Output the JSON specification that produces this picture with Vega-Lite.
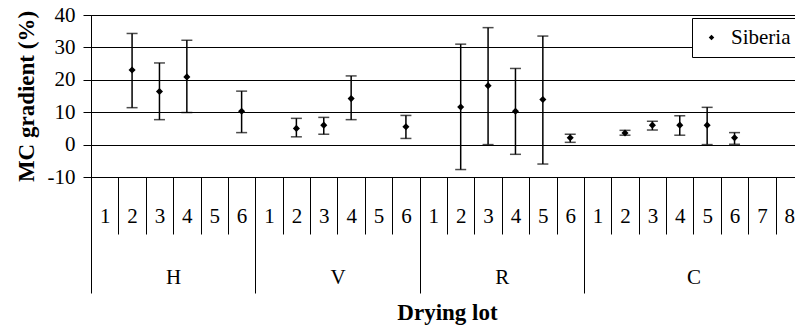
{
  "$schema": "https://vega.github.io/schema/vega-lite/v6.json",
  "width": 712,
  "height": 162,
  "autosize": {"type": "none"},
  "padding": {"left": 91, "top": 15, "right": 0, "bottom": 156},
  "config": {
    "font": "Liberation Serif",
    "view": {"stroke": "black", "strokeWidth": 1},
    "axis": {
      "labelFont": "Liberation Serif",
      "titleFont": "Liberation Serif",
      "labelColor": "black",
      "titleColor": "black",
      "domainColor": "black",
      "tickColor": "black",
      "domainWidth": 1,
      "tickWidth": 1
    },
    "legend": {
      "orient": "none",
      "legendX": 601,
      "legendY": 3,
      "title": null,
      "padding": 9,
      "strokeColor": "black",
      "fillColor": "white",
      "labelFont": "Liberation Serif",
      "labelFontSize": 21,
      "labelColor": "black",
      "symbolSize": 30,
      "symbolType": "diamond",
      "symbolFillColor": "black",
      "symbolStrokeWidth": 0,
      "labelOffset": 9
    }
  },
  "datasets": {
    "main": [
      {"key": "H1", "series": "Siberia", "mean": null, "low": null, "high": null},
      {"key": "H2", "series": "Siberia", "mean": 23.0, "low": 11.4, "high": 34.3},
      {"key": "H3", "series": "Siberia", "mean": 16.4, "low": 7.7, "high": 25.2},
      {"key": "H4", "series": "Siberia", "mean": 20.9, "low": 9.9, "high": 32.2},
      {"key": "H5", "series": "Siberia", "mean": null, "low": null, "high": null},
      {"key": "H6", "series": "Siberia", "mean": 10.3, "low": 3.7, "high": 16.5},
      {"key": "V1", "series": "Siberia", "mean": null, "low": null, "high": null},
      {"key": "V2", "series": "Siberia", "mean": 5.0, "low": 2.4, "high": 8.1},
      {"key": "V3", "series": "Siberia", "mean": 6.0, "low": 3.2, "high": 8.4},
      {"key": "V4", "series": "Siberia", "mean": 14.2, "low": 7.7, "high": 21.2},
      {"key": "V5", "series": "Siberia", "mean": null, "low": null, "high": null},
      {"key": "V6", "series": "Siberia", "mean": 5.5, "low": 1.9, "high": 9.0},
      {"key": "R1", "series": "Siberia", "mean": null, "low": null, "high": null},
      {"key": "R2", "series": "Siberia", "mean": 11.6, "low": -7.7, "high": 31.0},
      {"key": "R3", "series": "Siberia", "mean": 18.2, "low": 0.0, "high": 36.1},
      {"key": "R4", "series": "Siberia", "mean": 10.3, "low": -3.0, "high": 23.5},
      {"key": "R5", "series": "Siberia", "mean": 13.9, "low": -6.0, "high": 33.5},
      {"key": "R6", "series": "Siberia", "mean": 2.1, "low": 0.7, "high": 3.2},
      {"key": "C1", "series": "Siberia", "mean": null, "low": null, "high": null},
      {"key": "C2", "series": "Siberia", "mean": 3.6, "low": 2.9, "high": 4.4},
      {"key": "C3", "series": "Siberia", "mean": 6.0, "low": 4.5, "high": 7.2},
      {"key": "C4", "series": "Siberia", "mean": 6.0, "low": 2.9, "high": 8.9},
      {"key": "C5", "series": "Siberia", "mean": 6.0, "low": 0.0, "high": 11.5},
      {"key": "C6", "series": "Siberia", "mean": 2.1, "low": 0.1, "high": 3.7},
      {"key": "C7", "series": "Siberia", "mean": null, "low": null, "high": null},
      {"key": "C8", "series": "Siberia", "mean": null, "low": null, "high": null}
    ],
    "bounds": [{"b": 0}, {"b": 6}, {"b": 12}, {"b": 18}],
    "groups": [
      {"group": "H", "c": 3},
      {"group": "V", "c": 9},
      {"group": "R", "c": 15},
      {"group": "C", "c": 22}
    ]
  },
  "layer": [
    {
      "data": {"name": "main"},
      "encoding": {
        "x": {
          "field": "key",
          "type": "nominal",
          "sort": null,
          "scale": {
            "type": "band",
            "domain": ["H1","H2","H3","H4","H5","H6","V1","V2","V3","V4","V5","V6","R1","R2","R3","R4","R5","R6","C1","C2","C3","C4","C5","C6","C7","C8"],
            "paddingInner": 0,
            "paddingOuter": 0
          },
          "axis": {
            "orient": "bottom",
            "title": null,
            "tickBand": "extent",
            "tickSize": 57,
            "labelExpr": "isString(datum.value) ? substring(datum.value, 1) : ''",
            "labelFontSize": 21,
            "labelAngle": 0,
            "labelPadding": -18,
            "labelBaseline": "middle",
            "labelOverlap": false,
            "grid": false,
            "domain": true
          }
        }
      },
      "layer": [
        {
          "mark": {"type": "rule", "color": "black", "strokeWidth": 1.5},
          "encoding": {
            "y": {
              "field": "low",
              "type": "quantitative",
              "scale": {"domain": [-10, 40], "nice": false, "zero": false},
              "axis": {
                "values": [-10, 0, 10, 20, 30, 40],
                "tickCount": 10,
                "grid": true,
                "gridColor": "black",
                "gridWidth": 1,
                "gridOpacity": 1,
                "tickSize": 8,
                "labelPadding": 8,
                "labelFontSize": 21,
                "labelOverlap": false,
                "labelBound": false,
                "labelExpr": "replace(datum.label, '\u2212', '-')",
                "title": "MC gradient (%)",
                "titleFontSize": 23,
                "titleFontWeight": "bold",
                "titlePadding": 9
              }
            },
            "y2": {"field": "high"}
          }
        },
        {
          "mark": {"type": "tick", "color": "black", "size": 11, "thickness": 1.5},
          "encoding": {
            "y": {"field": "high", "type": "quantitative", "title": "MC gradient (%)"}
          }
        },
        {
          "mark": {"type": "tick", "color": "black", "size": 11, "thickness": 1.5},
          "encoding": {
            "y": {"field": "low", "type": "quantitative", "title": "MC gradient (%)"}
          }
        },
        {
          "mark": {"type": "point", "shape": "diamond", "filled": true, "size": 50, "opacity": 1},
          "encoding": {
            "y": {"field": "mean", "type": "quantitative", "title": "MC gradient (%)"},
            "color": {"field": "series", "type": "nominal", "scale": {"range": ["black"]}},
            "shape": {"field": "series", "type": "nominal", "scale": {"range": ["diamond"]}}
          }
        }
      ]
    },
    {
      "data": {"name": "bounds"},
      "mark": {"type": "rule", "strokeOpacity": 0},
      "encoding": {
        "x": {
          "field": "b",
          "type": "quantitative",
          "scale": {"domain": [0, 26], "nice": false, "zero": false},
          "axis": {
            "orient": "bottom",
            "values": [0, 6, 12, 18],
            "tickCount": 10,
            "tickSize": 116,
            "labels": false,
            "domain": false,
            "grid": false,
            "title": null
          }
        }
      }
    },
    {
      "data": {"name": "groups"},
      "mark": {"type": "rule", "strokeOpacity": 0},
      "encoding": {
        "x": {
          "field": "c",
          "type": "quantitative",
          "scale": {"domain": [0, 26], "nice": false, "zero": false},
          "axis": {
            "orient": "bottom",
            "values": [3, 9, 15, 22],
            "tickCount": 10,
            "ticks": false,
            "domain": false,
            "grid": false,
            "labelExpr": "datum.value == 3 ? 'H' : datum.value == 9 ? 'V' : datum.value == 15 ? 'R' : 'C'",
            "labelFontSize": 21,
            "labelPadding": 100,
            "labelBaseline": "middle",
            "labelFlush": false,
            "title": "Drying lot",
            "titleFontSize": 23,
            "titleFontWeight": "bold",
            "titlePadding": 14
          }
        }
      }
    }
  ],
  "resolve": {"scale": {"x": "independent"}, "axis": {"x": "independent"}}
}
